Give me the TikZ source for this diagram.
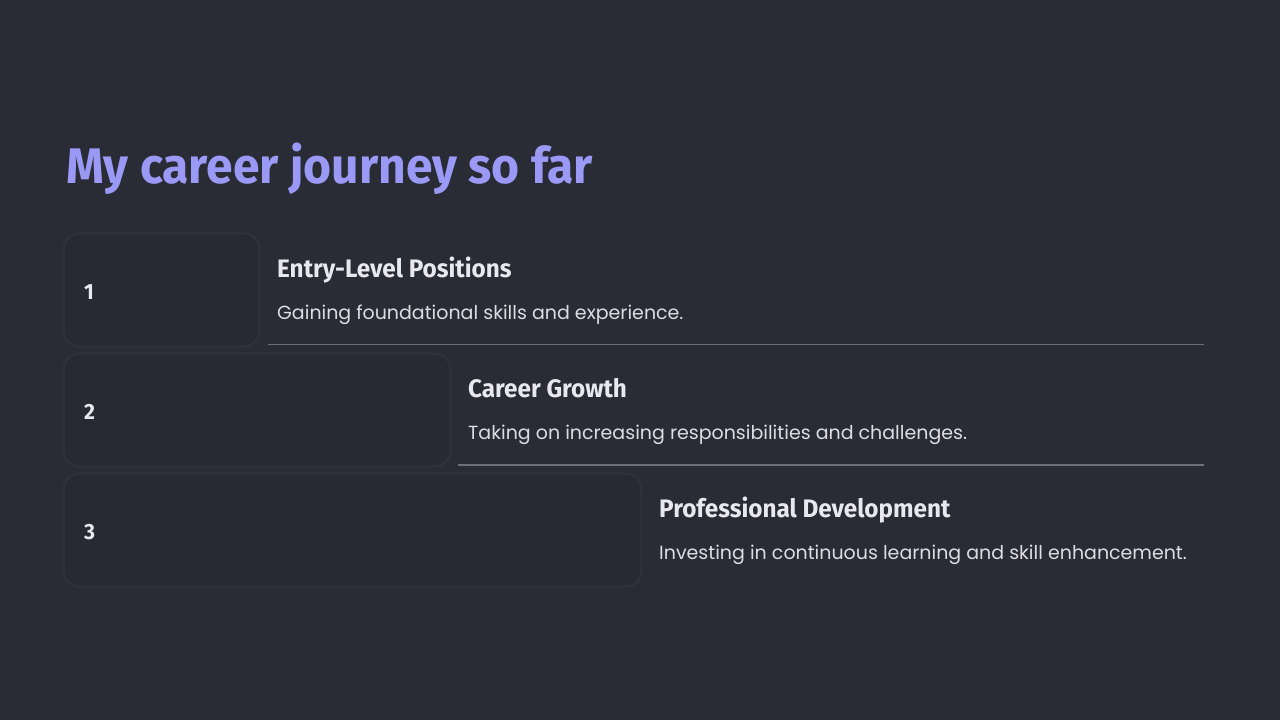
\documentclass[tikz,border=0pt]{standalone}
\usepackage{fontspec}
\setmainfont{Poppins}
\newfontfamily\headfont{Fira Sans}[FakeStretch=0.96]
\definecolor{bg}{HTML}{292C35}
\definecolor{boxfill}{HTML}{272A32}
\definecolor{boxedge}{HTML}{31333C}
\definecolor{boxglow}{HTML}{2D3038}
\definecolor{titlec}{HTML}{9A9AF6}
\definecolor{headc}{HTML}{E8E8F0}
\definecolor{descc}{HTML}{DCDCE4}
\definecolor{rulec}{HTML}{6E7079}
\begin{document}
\begin{tikzpicture}[x=1pt,y=-1pt,
  stepbox/.style={draw=boxedge,line width=1.4pt,fill=boxfill,rounded corners=15pt,
    preaction={draw=boxglow,line width=4pt}},
  numtxt/.style={anchor=base west,inner sep=0pt,font=\headfont\bfseries\fontsize{22}{26}\selectfont,text=headc},
  headtxt/.style={anchor=base west,inner sep=0pt,font=\headfont\bfseries\fontsize{25.3}{30}\selectfont,text=headc},
  desctxt/.style={anchor=base west,inner sep=0pt,font=\fontsize{19}{23}\selectfont,text=descc},
  sep/.style={draw=rulec,line width=1.4pt}]
\fill[bg] (0,0) rectangle (1280,720);
\useasboundingbox (0,0) rectangle (1280,720);
\node[anchor=base west,inner sep=0pt,font=\headfont\bfseries\fontsize{50}{60}\selectfont,text=titlec] (title) at (66,183) {My career journey so far};
% boxes
\draw[stepbox] (64,234) rectangle (259,346);
\draw[stepbox] (64,354) rectangle (450,466);
\draw[stepbox] (64,474) rectangle (641,586);
\node[numtxt] (n1) at (84,299) {1};
\node[numtxt] (n2) at (84,419) {2};
\node[numtxt] (n3) at (84,539) {3};
\node[headtxt] (h1) at (277,277) {Entry-Level Positions};
\node[desctxt] (d1) at (277,319) {Gaining foundational skills and experience.};
\node[headtxt] (h2) at (468,397) {Career Growth};
\node[desctxt] (d2) at (468,439) {Taking on increasing responsibilities and challenges.};
\node[headtxt] (h3) at (659,517) {Professional Development};
\node[desctxt] (d3) at (659,559) {Investing in continuous learning and skill enhancement.};
\coordinate (l1a) at (268,344.5);
\coordinate (l1b) at (1204,344.5);
\coordinate (l2a) at (458,465);
\coordinate (l2b) at (1204,465);
\draw[sep] (l1a) -- (l1b);
\draw[sep,line width=1.8pt] (l2a) -- (l2b);
\end{tikzpicture}
\end{document}
